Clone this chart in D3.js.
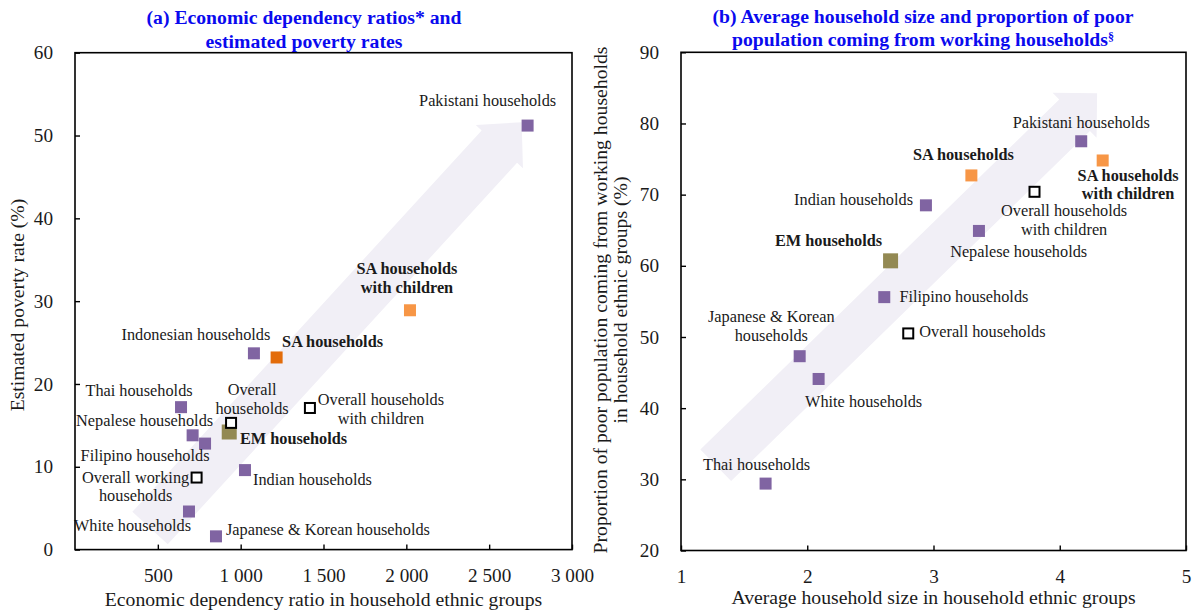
<!DOCTYPE html>
<html>
<head>
<meta charset="utf-8">
<script src="https://cdn.jsdelivr.net/npm/d3@7"></script>
<style>
  html, body { margin: 0; padding: 0; background: #fff; }
  svg { display: block; font-family: "Liberation Serif", "Times New Roman", serif; }
</style>
</head>
<body>
<svg id="chart" width="1193" height="612"></svg>
<script>
// ---------- Panel (a): economic dependency ratio vs estimated poverty rate ----------
const aGroups = [
  "Pakistani households", "SA households with children", "Indonesian households",
  "SA households", "Overall households with children", "Thai households",
  "EM households", "Overall households", "Nepalese households", "Filipino households",
  "Indian households", "Overall working households", "White households",
  "Japanese & Korean households"
];
const aKinds = ["group", "saChildren", "group", "sa", "overall", "group",
  "em", "overall", "group", "group", "group", "overall", "group", "group"];
const aDependency = [2732, 2022, 1080, 1217, 1418, 640, 931, 942, 710, 785, 1026, 734, 688, 851];
const aPoverty    = [51.2, 28.9, 23.7, 23.2, 17.1, 17.2, 14.2, 15.3, 13.8, 12.8, 9.6, 8.7, 4.6, 1.6];
const aXTicks = [500, 1000, 1500, 2000, 2500, 3000];
const aYTicks = [0, 10, 20, 30, 40, 50, 60];
const aTrend = { from: [453, 2.6], to: [2696, 51.6] };

// ---------- Panel (b): household size vs share of poor from working households ----------
const bGroups = [
  "Pakistani households", "SA households with children", "SA households",
  "Overall households with children", "Indian households", "Nepalese households",
  "EM households", "Filipino households", "Overall households",
  "Japanese & Korean households", "White households", "Thai households"
];
const bKinds = ["group", "saChildren", "sa", "overall", "group", "group",
  "em", "group", "overall", "group", "group", "group"];
const bHouseholdSize = [4.17, 4.34, 3.30, 3.80, 2.94, 3.36, 2.66, 2.61, 2.80, 1.94, 2.09, 1.67];
const bWorkingShare  = [77.5, 74.8, 72.7, 70.4, 68.5, 64.9, 60.7, 55.6, 50.5, 47.3, 44.1, 29.4];
const bXTicks = [1, 2, 3, 4, 5];
const bYTicks = [20, 30, 40, 50, 60, 70, 80, 90];
const bTrend = { from: [1.275, 31.97], to: [4.296, 84.24] };

// ---------- label placement (pixel offsets from each marker, line breaks by word count) ----------
const aLabelLayout = [
  { dx: -40, dy: -25, anchor: "middle" },
  { dx: -3,  dy: -41, anchor: "middle", breaks: [2] },
  { dx: -58, dy: -18.7, anchor: "middle" },
  { dx: 5.5, dy: -15, anchor: "start" },
  { dx: 71,  dy: -8,  anchor: "middle", breaks: [2] },
  { dx: -42, dy: -16, anchor: "middle" },
  { dx: 10.7, dy: 7,  anchor: "start" },
  { dx: 21,  dy: -33, anchor: "middle", breaks: [1] },
  { dx: -48, dy: -14, anchor: "middle" },
  { dx: -60, dy: 12,  anchor: "middle" },
  { dx: 8,   dy: 10,  anchor: "start" },
  { dx: -61, dy: 0,   anchor: "middle", breaks: [2] },
  { dx: -56.5, dy: 14, anchor: "middle" },
  { dx: 10,  dy: -6.7, anchor: "start" }
];
const bLabelLayout = [
  { dx: 0,   dy: -18.4, anchor: "middle" },
  { dx: 25.4, dy: 15.1, anchor: "middle", breaks: [2] },
  { dx: -8,  dy: -20.2, anchor: "middle" },
  { dx: 29.6, dy: 19.2, anchor: "middle", breaks: [2] },
  { dx: -12.9, dy: -5, anchor: "end" },
  { dx: 39.7, dy: 20.9, anchor: "middle" },
  { dx: -62, dy: -19.5, anchor: "middle" },
  { dx: 15.2, dy: 0,  anchor: "start" },
  { dx: 11.1, dy: -1, anchor: "start" },
  { dx: -28.4, dy: -39.3, anchor: "middle", breaks: [3] },
  { dx: 45,  dy: 23.3, anchor: "middle" },
  { dx: -9,  dy: -19, anchor: "middle" }
];

const svg = d3.select("#chart");
const TEXT = "#1a1a1a";
const LABEL_SIZE = 16.3;
const BIG_SIZE = 19.7;

const spaceFormat = d3.formatLocale({ decimal: ".", thousands: " ", grouping: [3], currency: ["", ""] }).format(",");

function splitLines(name, breaks) {
  const words = name.split(" ");
  if (!breaks) return [name];
  const lines = [];
  let start = 0;
  breaks.forEach(b => { lines.push(words.slice(start, b).join(" ")); start = b; });
  lines.push(words.slice(start).join(" "));
  return lines;
}

// block arrow: shaft of half-width w, head of half-width W and length h
function arrowPath(p0, p1, w, W, h) {
  const L = Math.hypot(p1[0] - p0[0], p1[1] - p0[1]);
  const u = [(p1[0] - p0[0]) / L, (p1[1] - p0[1]) / L];
  const n = [-u[1], u[0]];
  const neck = [p1[0] - u[0] * h, p1[1] - u[1] * h];
  const pt = (base, k) => [base[0] + n[0] * k, base[1] + n[1] * k];
  return [pt(p0, w), pt(neck, w), pt(neck, W), p1, pt(neck, -W), pt(neck, -w), pt(p0, -w)];
}

function drawPanel(cfg) {
  const g = svg.append("g");
  const x = d3.scaleLinear().domain(cfg.xDomain).range(cfg.xRange);
  const y = d3.scaleLinear().domain(cfg.yDomain).range(cfg.yRange);

  // trend arrow behind the points
  const pts = arrowPath([x(cfg.trend.from[0]), y(cfg.trend.from[1])],
                        [x(cfg.trend.to[0]), y(cfg.trend.to[1])],
                        cfg.shaftHalf, cfg.headHalf, cfg.headLen);
  g.append("polygon")
    .attr("points", pts.map(p => p.join(",")).join(" "))
    .attr("fill", "#f1eff6");

  const rows = cfg.groups.map((name, i) => ({
    name, kind: cfg.kinds[i], xv: cfg.xs[i], yv: cfg.ys[i], layout: cfg.layout[i]
  }));

  // markers
  rows.forEach(d => {
    const cx = x(d.xv), cy = y(d.yv);
    if (d.kind === "overall") {
      const s = 10;
      g.append("rect").attr("x", cx - s / 2).attr("y", cy - s / 2)
        .attr("width", s).attr("height", s)
        .attr("fill", "#fff").attr("stroke", "#000").attr("stroke-width", 2);
    } else {
      const s = d.kind === "em" ? 15 : 12;
      g.append("rect").attr("x", cx - s / 2).attr("y", cy - s / 2)
        .attr("width", s).attr("height", s)
        .attr("fill", cfg.colors[d.kind]);
    }
  });

  // point labels
  rows.forEach(d => {
    const cx = x(d.xv), cy = y(d.yv);
    const L = d.layout;
    const lines = splitLines(d.name, L.breaks);
    const bold = d.kind === "sa" || d.kind === "saChildren" || d.kind === "em";
    const t = g.append("text")
      .attr("text-anchor", L.anchor)
      .attr("font-size", LABEL_SIZE)
      .attr("font-weight", bold ? "bold" : "normal")
      .attr("fill", TEXT);
    lines.forEach((ln, k) => {
      t.append("tspan")
        .attr("x", cx + L.dx)
        .attr("y", cy + L.dy + 5 + k * 18.7)
        .text(ln);
    });
  });

  // frame
  g.append("rect")
    .attr("x", cfg.xRange[0]).attr("y", cfg.yRange[1])
    .attr("width", cfg.xRange[1] - cfg.xRange[0])
    .attr("height", cfg.yRange[0] - cfg.yRange[1])
    .attr("fill", "none").attr("stroke", "#000").attr("stroke-width", 1.6);

  // axes with inward ticks
  const xAxis = g.append("g").attr("transform", `translate(0,${cfg.yRange[0]})`)
    .call(d3.axisBottom(x).tickValues(cfg.xTicks).tickSize(-5).tickPadding(19)
      .tickFormat(cfg.xFormat));
  const yAxis = g.append("g").attr("transform", `translate(${cfg.xRange[0]},0)`)
    .call(d3.axisLeft(y).tickValues(cfg.yTicks).tickSize(-5).tickPadding(cfg.yPad)
      .tickFormat(d3.format("d")));
  [xAxis, yAxis].forEach(a => {
    a.select(".domain").remove();
    a.selectAll(".tick line").attr("stroke", "#000").attr("stroke-width", 1.4);
    a.selectAll(".tick text")
      .attr("font-family", "Liberation Serif, Times New Roman, serif")
      .attr("font-size", 19.2).attr("fill", TEXT);
  });

  // panel title
  const title = g.append("text").attr("text-anchor", "middle")
    .attr("font-size", BIG_SIZE).attr("font-weight", "bold").attr("fill", "#0a0aee");
  cfg.title.forEach((ln, k) => {
    title.append("tspan").attr("x", cfg.titleX).attr("y", cfg.titleY[k]).text(ln);
    if (k === cfg.title.length - 1 && cfg.titleMark) {
      title.append("tspan").attr("font-size", 12).attr("dy", -5).text(cfg.titleMark);
    }
  });

  // axis titles
  g.append("text").attr("text-anchor", "middle")
    .attr("x", (cfg.xRange[0] + cfg.xRange[1]) / 2).attr("y", cfg.xTitleY)
    .attr("font-size", BIG_SIZE).attr("fill", TEXT).text(cfg.xTitle);
  cfg.yTitle.forEach((ln, k) => {
    g.append("text").attr("text-anchor", "middle")
      .attr("transform", `translate(${cfg.yTitleX[k]},${cfg.yTitleMid}) rotate(-90)`)
      .attr("font-size", BIG_SIZE).attr("fill", TEXT).text(ln);
  });
}

drawPanel({
  groups: aGroups, kinds: aKinds, xs: aDependency, ys: aPoverty, layout: aLabelLayout,
  xDomain: [0, 3000], xRange: [75, 572], yDomain: [0, 60], yRange: [549.6, 52.7],
  xTicks: aXTicks, yTicks: aYTicks, xFormat: spaceFormat, yPad: 22,
  trend: aTrend, shaftHalf: 24, headHalf: 32, headLen: 33,
  colors: { group: "#8064a2", sa: "#e36c0a", saChildren: "#f79646", em: "#938953" },
  title: ["(a) Economic dependency ratios* and", "estimated poverty rates"],
  titleX: 304, titleY: [24, 48],
  xTitle: "Economic dependency ratio in household ethnic groups", xTitleY: 606,
  yTitle: ["Estimated poverty rate (%)"], yTitleX: [24], yTitleMid: 305
});

drawPanel({
  groups: bGroups, kinds: bKinds, xs: bHouseholdSize, ys: bWorkingShare, layout: bLabelLayout,
  xDomain: [1, 5], xRange: [681, 1186], yDomain: [20, 90], yRange: [550.5, 52.3],
  xTicks: bXTicks, yTicks: bYTicks, xFormat: d3.format("d"), yPad: 22,
  trend: bTrend, shaftHalf: 22, headHalf: 31.5, headLen: 31.5,
  colors: { group: "#8064a2", sa: "#f79646", saChildren: "#f79646", em: "#938953" },
  title: ["(b) Average household size and proportion of poor",
          "population coming from working households"],
  titleMark: "§",
  titleX: 923, titleY: [23, 46],
  xTitle: "Average household size in household ethnic groups", xTitleY: 604,
  yTitle: ["Proportion of poor population coming from working households",
           "in household ethnic groups (%)"],
  yTitleX: [607, 627], yTitleMid: 300
});
</script>
</body>
</html>
